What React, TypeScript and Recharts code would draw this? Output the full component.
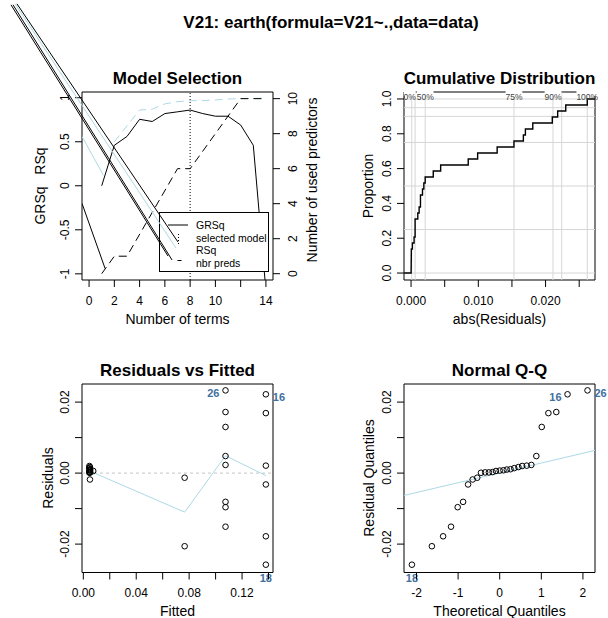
import React from 'react'
import {
  ComposedChart,
  Line,
  Scatter,
  XAxis,
  YAxis,
  ReferenceLine,
  ReferenceArea,
  ReferenceDot,
} from 'recharts'

const W = 608
const H = 618
const FONT = '"Liberation Sans", Arial, Helvetica, sans-serif'
const LIGHTBLUE = '#add8e6'
const ID_COL = '#41709f'
const GRID = '#d6d6d6'

// ---- Model Selection (terms vs GRSq / RSq, right axis = nbr preds)
const terms = [1, 2, 3, 4, 5, 6, 7, 8, 9, 10, 11, 12, 13, 14]
const grsq = [0, 0.46, 0.56, 0.755, 0.73, 0.82, 0.84, 0.86, 0.82, 0.79, 0.79, 0.69, 0.46, -1.19]
const rsqTerms = [2, 3, 4, 5, 6, 7, 8, 9, 10, 11, 12, 13, 14]
const rsq = [0.5, 0.68, 0.86, 0.87, 0.93, 0.955, 0.967, 0.967, 0.975, 0.985, 0.99, 0.992, 0.995]
const predTerms = [1, 2, 3, 7, 8, 12, 14]
const nPreds = [0, 1, 1, 6, 6, 10, 10]
const selectedTerms = 8
const grsqLeadX = [-0.56, 1.27]
const grsqLeadY = [-0.2, -0.94]
const rsqLeadX = [-0.56, 1.13]
const rsqLeadY = [0.56, 0.12]
// stray legend strokes, in terms / GRSq units
const strayX0 = [-5.71, -5.86, -6.02, -6.18]
const strayY0 = [2.066, 2.066, 2.055, 2.055]
const strayX1 = [7.04, 6.88, 6.57, 6.25]
const strayY1 = [-0.639, -0.707, -0.843, -0.798]
const strayCol = ['#000', LIGHTBLUE, '#000', '#000']

// ---- Cumulative Distribution of abs(residuals)
const absResid = [
  0.00001, 0.00002, 0.00003, 0.00004, 0.0002, 0.00045, 0.0006, 0.0006, 0.0006, 0.001,
  0.0012, 0.0014, 0.0014, 0.0017, 0.0019, 0.0021, 0.0033, 0.0044, 0.0085, 0.0099,
  0.0128, 0.0153, 0.0167, 0.017, 0.0181, 0.021, 0.0218, 0.023, 0.0262,
]
const quantLabels = ['0%', '25%', '50%', '75%', '90%', '95%', '100%']
const quantValues = [0.0001, 0.0006, 0.0021, 0.0153, 0.0211, 0.0224, 0.0262]
const quantShown = [true, false, true, true, true, false, true]
const quantNudge = [-2, 0, 0, 0, 0, 0, 0]
const propGrid = [0, 0.25, 0.5, 0.75, 0.9, 0.95, 1]

// ---- Residuals vs Fitted
const fitted = [
  0.005, 0.0046, 0.0049, 0.0053, 0.0045, 0.0075, 0.0048, 0.0051, 0.0047, 0.0052, 0.0044, 0.005, 0.0046,
  0.0766, 0.0766,
  0.1075, 0.1075, 0.1075, 0.1075, 0.1075, 0.1075, 0.1075, 0.1075,
  0.138, 0.138, 0.138, 0.138, 0.138, 0.138,
]
const resid = [
  -0.0018, 0.0001, 0.0002, 0.0002, 0.0003, 0.0006, 0.0007, 0.0008, 0.001, 0.0011, 0.0014, 0.0017, 0.002,
  -0.0013, -0.0206,
  0.0233, 0.0172, 0.013, 0.0048, 0.0023, -0.0081, -0.0096, -0.0151,
  0.0222, 0.0169, 0.0021, -0.0032, -0.0178, -0.0258,
]
const smoothX = [0.006, 0.0766, 0.1075, 0.138]
const smoothY = [0.0004, -0.011, 0.0049, -0.0007]
const rfIds = ['26', '16', '18']
const rfIdX = [0.1075, 0.138, 0.138]
const rfIdY = [0.0233, 0.0222, -0.0258]
const rfIdSide = ['left', 'right', 'below']

// ---- Normal Q-Q
const qqTheo = [
  -2.11, -1.63, -1.36, -1.17, -1.01, -0.88, -0.76, -0.65, -0.54, -0.45, -0.35, -0.26, -0.17, -0.09, 0,
  0.09, 0.17, 0.26, 0.35, 0.45, 0.54, 0.65, 0.76, 0.88, 1.01, 1.17, 1.36, 1.63, 2.11,
]
const qqResid = [
  -0.0258, -0.0206, -0.0178, -0.0151, -0.0096, -0.0081, -0.0032, -0.0018, -0.0013, 0.0001, 0.0002, 0.0002,
  0.0003, 0.0006, 0.0007, 0.0008, 0.001, 0.0011, 0.0014, 0.0017, 0.002, 0.0021, 0.0023, 0.0048, 0.013,
  0.0169, 0.0172, 0.0222, 0.0233,
]
const qqLineX = [-2.3, 2.29]
const qqLineY = [-0.0063, 0.0064]
const qqIds = ['26', '16', '18']
const qqIdX = [2.11, 1.63, -2.11]
const qqIdY = [0.0233, 0.0222, -0.0258]
const qqIdSide = ['right', 'left', 'below']

// plot boxes (page pixels)
const BOX = {
  ms: { l: 82, r: 273, t: 92, b: 280 },
  cd: { l: 404, r: 595, t: 92, b: 280 },
  rf: { l: 82, r: 273, t: 384, b: 572.5 },
  qq: { l: 404, r: 595, t: 384, b: 572.5 },
}
const AXW = 30
const AXH = 30

type Box = { l: number; r: number; t: number; b: number }

const marginFor = (b: Box, rightAxis = false) => ({
  top: b.t,
  left: b.l - AXW,
  right: W - b.r - (rightAxis ? AXW : 0),
  bottom: H - b.b - AXH,
})

const xy = (xs: number[], ys: number[]) => xs.map((x, i) => ({ x, y: ys[i] }))

const xTick = (bottom: number, fmt: (v: number) => string) => (p: any) => {
  const x = p.x
  const s = fmt(p.payload.value)
  return (
    <g>
      <line x1={x} x2={x} y1={bottom} y2={bottom + 7} stroke="#000" />
      {s && (
        <text x={x} y={bottom + 24.5} textAnchor="middle" fontSize={12} fill="#000">
          {s}
        </text>
      )}
    </g>
  )
}

const yTickL = (left: number, fmt: (v: number) => string) => (p: any) => {
  const y = p.y
  const s = fmt(p.payload.value)
  const tx = left - 12.5
  return (
    <g>
      <line x1={left - 7} x2={left} y1={y} y2={y} stroke="#000" />
      {s && (
        <text x={tx} y={y} transform={`rotate(-90 ${tx} ${y})`} textAnchor="middle" fontSize={12} fill="#000">
          {s}
        </text>
      )}
    </g>
  )
}

const yTickR = (right: number) => (p: any) => {
  const y = p.y
  const tx = right + 24
  return (
    <g>
      <line x1={right} x2={right + 7} y1={y} y2={y} stroke="#000" />
      <text x={tx} y={y} transform={`rotate(-90 ${tx} ${y})`} textAnchor="middle" fontSize={12} fill="#000">
        {String(p.payload.value)}
      </text>
    </g>
  )
}

const openCircle = (p: any) => <circle cx={p.cx} cy={p.cy} r={2.8} fill="none" stroke="#000" strokeWidth={1} />

const idLabel = (cx: number, cy: number, id: string, side: string) => {
  const dx = side === 'left' ? -6 : side === 'right' ? 7 : 0
  const dy = side === 'below' ? 17 : 7
  const anchor = side === 'left' ? 'end' : side === 'right' ? 'start' : 'middle'
  return (
    <text x={cx + dx} y={cy + dy} textAnchor={anchor} fontSize={11} fontWeight="bold" fill={ID_COL}>
      {id}
    </text>
  )
}

const idDots = (ids: string[], xs: number[], ys: number[], sides: string[]) =>
  ids.map((id, i) => (
    <ReferenceDot
      key={'id' + id}
      x={xs[i]}
      y={ys[i]}
      r={0}
      ifOverflow="visible"
      shape={(p: any) => idLabel(p.cx, p.cy, id, sides[i])}
    />
  ))

const abs: React.CSSProperties = { position: 'absolute', left: 0, top: 0 }

// domains
const msX: [number, number] = [-0.56, 14.56]
const msYL: [number, number] = [-1.07, 1.065]
const msYR: [number, number] = [-0.36, 10.38]
const cdX: [number, number] = [-0.00105, 0.02735]
const cdY: [number, number] = [-0.04, 1.04]
const rfX: [number, number] = [-0.001, 0.1434]
const resY: [number, number] = [-0.028, 0.0251]
const qqX: [number, number] = [-2.3, 2.29]

function ModelSelection() {
  const b = BOX.ms
  return (
    <ComposedChart width={W} height={H} margin={marginFor(b, true)}>
      <XAxis
        type="number"
        dataKey="x"
        domain={msX}
        allowDataOverflow
        ticks={[0, 2, 4, 6, 8, 10, 12, 14]}
        interval={0}
        tick={xTick(b.b, (v) => (v === 12 ? '' : String(v)))}
        tickLine={false}
        axisLine={false}
        height={AXH}
      />
      <YAxis
        yAxisId="l"
        type="number"
        dataKey="y"
        domain={msYL}
        allowDataOverflow
        ticks={[-1, -0.5, 0, 0.5, 1]}
        interval={0}
        tick={yTickL(b.l, (v) => String(v))}
        tickLine={false}
        axisLine={false}
        width={AXW}
      />
      <YAxis
        yAxisId="r"
        orientation="right"
        type="number"
        dataKey="y"
        domain={msYR}
        allowDataOverflow
        ticks={[0, 2, 4, 6, 8, 10]}
        interval={0}
        tick={yTickR(b.r)}
        tickLine={false}
        axisLine={false}
        width={AXW}
      />
      <ReferenceLine yAxisId="l" x={selectedTerms} stroke="#000" strokeDasharray="1 2" />
      <Line yAxisId="l" data={xy(grsqLeadX, grsqLeadY)} dataKey="y" stroke="#000" strokeWidth={1} dot={false} isAnimationActive={false} />
      <Line yAxisId="l" data={xy(rsqLeadX, rsqLeadY)} dataKey="y" stroke={LIGHTBLUE} strokeWidth={1} dot={false} isAnimationActive={false} />
      <Line yAxisId="l" data={xy(rsqTerms, rsq)} dataKey="y" stroke={LIGHTBLUE} strokeWidth={1} strokeDasharray="8 5" dot={false} isAnimationActive={false} />
      <Line yAxisId="r" data={xy(predTerms, nPreds)} dataKey="y" stroke="#000" strokeWidth={1} strokeDasharray="8 5" dot={false} isAnimationActive={false} />
      <Line yAxisId="l" data={xy(terms, grsq)} dataKey="y" stroke="#000" strokeWidth={1} dot={false} isAnimationActive={false} />
      <ReferenceArea yAxisId="l" x1={msX[0]} x2={msX[1]} y1={msYL[0]} y2={msYL[1]} fill="none" stroke="#000" ifOverflow="visible" />
    </ComposedChart>
  )
}

function ModelLegend() {
  const rows = ['GRSq', 'selected model', 'RSq', 'nbr preds']
  return (
    <div style={{ ...abs, left: 159, top: 212, width: 110, height: 60, background: '#fff', border: '1px solid #000', boxSizing: 'border-box' }}>
      <svg width={110} height={60} style={{ display: 'block' }}>
        <line x1={8} x2={28} y1={12} y2={12} stroke="#000" />
        <line x1={18.5} x2={18.5} y1={21} y2={31} stroke="#000" strokeDasharray="1 2" />
        <line x1={17.5} x2={21.5} y1={47.5} y2={47.5} stroke="#000" />
        {rows.map((r, i) => (
          <text key={r} x={36} y={16 + i * 12.5} fontSize={10.5} fill="#000">
            {r}
          </text>
        ))}
      </svg>
    </div>
  )
}

function StrayStrokes() {
  const b = BOX.ms
  return (
    <ComposedChart width={W} height={H} margin={{ top: b.t, left: b.l, right: W - b.r, bottom: H - b.b }}>
      <XAxis type="number" dataKey="x" domain={msX} allowDataOverflow hide />
      <YAxis yAxisId="l" type="number" dataKey="y" domain={msYL} allowDataOverflow hide />
      {strayX0.map((x0, i) => (
        <ReferenceLine
          key={i}
          yAxisId="l"
          segment={[
            { x: x0, y: strayY0[i] },
            { x: strayX1[i], y: strayY1[i] },
          ]}
          stroke={strayCol[i]}
          strokeWidth={1}
          ifOverflow="visible"
        />
      ))}
    </ComposedChart>
  )
}

function CumDist() {
  const b = BOX.cd
  const n = absResid.length
  const steps = [
    { x: cdX[0], y: 0 },
    ...absResid.map((v, i) => ({ x: v, y: (i + 1) / n })),
    { x: cdX[1], y: 1 },
  ]
  return (
    <ComposedChart width={W} height={H} margin={marginFor(b)}>
      <XAxis
        type="number"
        dataKey="x"
        domain={cdX}
        allowDataOverflow
        ticks={[0, 0.005, 0.01, 0.015, 0.02, 0.025]}
        interval={0}
        tick={xTick(b.b, (v) => (Math.round(v * 1000) % 10 === 0 ? v.toFixed(3) : ''))}
        tickLine={false}
        axisLine={false}
        height={AXH}
      />
      <YAxis
        type="number"
        dataKey="y"
        domain={cdY}
        allowDataOverflow
        ticks={[0, 0.2, 0.4, 0.6, 0.8, 1]}
        interval={0}
        tick={yTickL(b.l, (v) => v.toFixed(1))}
        tickLine={false}
        axisLine={false}
        width={AXW}
      />
      {propGrid.map((g) => (
        <ReferenceLine key={'h' + g} y={g} stroke={GRID} strokeWidth={1} />
      ))}
      {quantValues.map((q, i) => (
        <ReferenceLine key={'v' + i} x={q} stroke={GRID} strokeWidth={1} />
      ))}
      <Line data={steps} dataKey="y" type="stepAfter" stroke="#000" strokeWidth={1.4} dot={false} isAnimationActive={false} />
      <ReferenceArea x1={cdX[0]} x2={cdX[1]} y1={cdY[0]} y2={cdY[1]} fill="none" stroke="#000" ifOverflow="visible" />
      {quantValues.map((q, i) =>
        quantShown[i] ? (
          <ReferenceDot
            key={'l' + i}
            x={q}
            y={cdY[1]}
            r={0}
            ifOverflow="visible"
            shape={(p: any) => {
              const w = quantLabels[i].length * 4.9
              const cx = p.cx + quantNudge[i]
              return (
                <g>
                  <rect x={cx - w / 2 - 1} y={p.cy - 3} width={w + 2} height={7} fill="#fff" />
                  <text x={cx} y={p.cy + 8} textAnchor="middle" fontSize={8.5} fill="#444">
                    {quantLabels[i]}
                  </text>
                </g>
              )
            }}
          />
        ) : null
      )}
    </ComposedChart>
  )
}

const resTickFmt = (v: number) => (Math.round(v * 100) % 2 === 0 ? v.toFixed(2) : '')

function ResidFitted() {
  const b = BOX.rf
  const pts = xy(fitted, resid)
  return (
    <ComposedChart width={W} height={H} margin={marginFor(b)}>
      <XAxis
        type="number"
        dataKey="x"
        domain={rfX}
        allowDataOverflow
        ticks={[0, 0.02, 0.04, 0.06, 0.08, 0.1, 0.12, 0.14]}
        interval={0}
        tick={xTick(b.b, (v) => (Math.round(v * 100) % 4 === 0 ? v.toFixed(2) : ''))}
        tickLine={false}
        axisLine={false}
        height={AXH}
      />
      <YAxis
        type="number"
        dataKey="y"
        domain={resY}
        allowDataOverflow
        ticks={[-0.02, -0.01, 0, 0.01, 0.02]}
        interval={0}
        tick={yTickL(b.l, resTickFmt)}
        tickLine={false}
        axisLine={false}
        width={AXW}
      />
      <ReferenceLine y={0} stroke="#c4c4c4" strokeDasharray="3 3" />
      <Line data={xy(smoothX, smoothY)} dataKey="y" stroke={LIGHTBLUE} strokeWidth={1} dot={false} isAnimationActive={false} />
      <Scatter data={pts} shape={openCircle} isAnimationActive={false} />
      <ReferenceArea x1={rfX[0]} x2={rfX[1]} y1={resY[0]} y2={resY[1]} fill="none" stroke="#000" ifOverflow="visible" />
      {idDots(rfIds, rfIdX, rfIdY, rfIdSide)}
    </ComposedChart>
  )
}

function NormalQQ() {
  const b = BOX.qq
  const pts = xy(qqTheo, qqResid)
  return (
    <ComposedChart width={W} height={H} margin={marginFor(b)}>
      <XAxis
        type="number"
        dataKey="x"
        domain={qqX}
        allowDataOverflow
        ticks={[-2, -1, 0, 1, 2]}
        interval={0}
        tick={xTick(b.b, (v) => String(v))}
        tickLine={false}
        axisLine={false}
        height={AXH}
      />
      <YAxis
        type="number"
        dataKey="y"
        domain={resY}
        allowDataOverflow
        ticks={[-0.02, -0.01, 0, 0.01, 0.02]}
        interval={0}
        tick={yTickL(b.l, resTickFmt)}
        tickLine={false}
        axisLine={false}
        width={AXW}
      />
      <Line data={xy(qqLineX, qqLineY)} dataKey="y" stroke={LIGHTBLUE} strokeWidth={1} dot={false} isAnimationActive={false} />
      <Scatter data={pts} shape={openCircle} isAnimationActive={false} />
      <ReferenceArea x1={qqX[0]} x2={qqX[1]} y1={resY[0]} y2={resY[1]} fill="none" stroke="#000" ifOverflow="visible" />
      {idDots(qqIds, qqIdX, qqIdY, qqIdSide)}
    </ComposedChart>
  )
}

function Titles() {
  const t = { fontSize: 17, fontWeight: 'bold' as const, textAnchor: 'middle' as const, fill: '#000' }
  const a = { fontSize: 14, textAnchor: 'middle' as const, fill: '#000' }
  const rot = (x: number, y: number) => `rotate(-90 ${x} ${y})`
  return (
    <svg width={W} height={H} style={abs}>
      <text x={331} y={28} {...t}>V21: earth(formula=V21~.,data=data)</text>
      <text x={177.5} y={83.5} {...t}>Model Selection</text>
      <text x={499.5} y={83.5} {...t}>Cumulative Distribution</text>
      <text x={177.5} y={375.5} {...t}>Residuals vs Fitted</text>
      <text x={499.5} y={375.5} {...t}>Normal Q-Q</text>

      <text x={177.5} y={324} {...a}>Number of terms</text>
      <text x={499.5} y={324} {...a}>abs(Residuals)</text>
      <text x={177.5} y={615.5} {...a}>Fitted</text>
      <text x={499.5} y={615.5} {...a}>Theoretical Quantiles</text>

      <text x={45} y={186} transform={rot(45, 186)} {...a} style={{ whiteSpace: 'pre' }}>
        {'GRSq   RSq'}
      </text>
      <text x={317} y={180} transform={rot(317, 180)} {...a}>Number of used predictors</text>
      <text x={373} y={186} transform={rot(373, 186)} {...a}>Proportion</text>
      <text x={53} y={478} transform={rot(53, 478)} {...a}>Residuals</text>
      <text x={374} y={478} transform={rot(374, 478)} {...a}>Residual Quantiles</text>
    </svg>
  )
}

export default function App() {
  return (
    <div style={{ ...abs, width: W, height: H, background: '#fff', fontFamily: FONT, overflow: 'hidden' }}>
      <Titles />
      <div style={abs}>
        <ModelSelection />
      </div>
      <ModelLegend />
      <div style={abs}>
        <StrayStrokes />
      </div>
      <div style={abs}>
        <CumDist />
      </div>
      <div style={abs}>
        <ResidFitted />
      </div>
      <div style={abs}>
        <NormalQQ />
      </div>
    </div>
  )
}
